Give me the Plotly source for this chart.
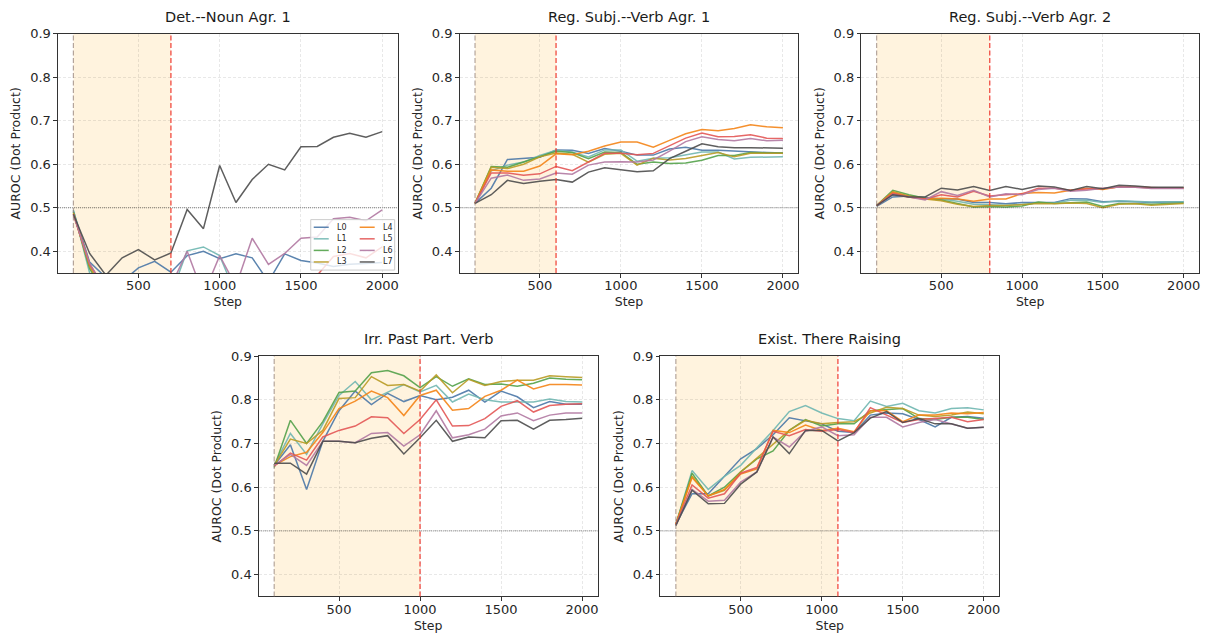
import plotly.graph_objects as go

steps = [100, 200, 300, 400, 500, 600, 700, 800, 900, 1000,
         1100, 1200, 1300, 1400, 1500, 1600, 1700, 1800, 1900, 2000]
layer_names = ["L0", "L1", "L2", "L3", "L4", "L5", "L6", "L7"]
layer_colors = ["#4C78A8", "#72B7B2", "#54A24B", "#BA9C25",
                "#F58518", "#E45756", "#B279A2", "#4D4D4D"]

titles = ["Det.--Noun Agr. 1", "Reg. Subj.--Verb Agr. 1", "Reg. Subj.--Verb Agr. 2",
          "Irr. Past Part. Verb", "Exist. There Raising"]
shade_end = [700, 600, 800, 1000, 1100]
x_ticks = [500, 1000, 1500, 2000]
y_ticks = [0.4, 0.5, 0.6, 0.7, 0.8, 0.9]

det_noun_1 = [
    [0.492, 0.375, 0.34, 0.33, 0.362, 0.377, 0.352, 0.39, 0.40, 0.383, 0.394, 0.385, 0.33, 0.394, 0.379, 0.373, 0.365, 0.37, 0.372, 0.374],
    [0.495, 0.35, 0.30, 0.29, 0.30, 0.31, 0.30, 0.401, 0.41, 0.39, 0.30, 0.31, 0.30, 0.31, 0.30, 0.31, 0.30, 0.31, 0.30, 0.31],
    [0.49, 0.36, 0.30, 0.29, 0.29, 0.30, 0.30, 0.30, 0.31, 0.30, 0.30, 0.31, 0.30, 0.30, 0.31, 0.30, 0.31, 0.31, 0.30, 0.31],
    [0.488, 0.365, 0.30, 0.29, 0.30, 0.30, 0.29, 0.30, 0.30, 0.31, 0.30, 0.30, 0.31, 0.30, 0.30, 0.31, 0.30, 0.30, 0.31, 0.31],
    [0.486, 0.37, 0.31, 0.30, 0.29, 0.30, 0.30, 0.31, 0.30, 0.30, 0.31, 0.30, 0.30, 0.31, 0.31, 0.30, 0.31, 0.31, 0.31, 0.32],
    [0.485, 0.37, 0.31, 0.30, 0.30, 0.29, 0.30, 0.30, 0.31, 0.30, 0.30, 0.31, 0.30, 0.31, 0.32, 0.345, 0.388, 0.395, 0.385, 0.41],
    [0.484, 0.372, 0.31, 0.30, 0.30, 0.30, 0.32, 0.40, 0.30, 0.39, 0.32, 0.43, 0.37, 0.395, 0.43, 0.433, 0.475, 0.478, 0.47, 0.495],
    [0.485, 0.395, 0.345, 0.385, 0.404, 0.38, 0.396, 0.496, 0.452, 0.597, 0.512, 0.565, 0.60, 0.587, 0.64, 0.641, 0.662, 0.671, 0.662, 0.675],
]
reg_subj_verb_1 = [
    [0.51, 0.545, 0.611, 0.614, 0.616, 0.633, 0.632, 0.625, 0.636, 0.63, 0.621, 0.621, 0.635, 0.639, 0.632, 0.632, 0.63, 0.628, 0.627, 0.626],
    [0.51, 0.585, 0.598, 0.605, 0.62, 0.632, 0.628, 0.617, 0.633, 0.633, 0.607, 0.614, 0.615, 0.622, 0.628, 0.628, 0.612, 0.616, 0.616, 0.617],
    [0.51, 0.595, 0.593, 0.605, 0.617, 0.63, 0.627, 0.613, 0.628, 0.627, 0.60, 0.605, 0.602, 0.603, 0.609, 0.62, 0.62, 0.627, 0.626, 0.626],
    [0.51, 0.593, 0.59, 0.60, 0.617, 0.626, 0.623, 0.605, 0.623, 0.625, 0.598, 0.614, 0.61, 0.613, 0.62, 0.627, 0.617, 0.625, 0.625, 0.625],
    [0.51, 0.587, 0.584, 0.584, 0.596, 0.624, 0.622, 0.63, 0.642, 0.651, 0.651, 0.639, 0.655, 0.67, 0.68, 0.677, 0.682, 0.691, 0.686, 0.684],
    [0.51, 0.58, 0.58, 0.575, 0.578, 0.595, 0.585, 0.605, 0.625, 0.625, 0.622, 0.625, 0.643, 0.66, 0.672, 0.663, 0.664, 0.668, 0.66, 0.659],
    [0.51, 0.568, 0.575, 0.563, 0.566, 0.58, 0.577, 0.598, 0.605, 0.606, 0.605, 0.61, 0.63, 0.652, 0.663, 0.657, 0.654, 0.659, 0.654, 0.655],
    [0.51, 0.53, 0.563, 0.556, 0.561, 0.565, 0.559, 0.582, 0.592, 0.588, 0.583, 0.585, 0.613, 0.63, 0.647, 0.64, 0.638, 0.638, 0.637, 0.637],
]
reg_subj_verb_2 = [
    [0.503, 0.525, 0.527, 0.523, 0.52, 0.52, 0.512, 0.512, 0.509, 0.512, 0.512, 0.512, 0.521, 0.52, 0.514, 0.515, 0.514, 0.512, 0.513, 0.513],
    [0.505, 0.53, 0.527, 0.522, 0.52, 0.515, 0.508, 0.507, 0.506, 0.508, 0.511, 0.511, 0.517, 0.517, 0.512, 0.516, 0.515, 0.513, 0.514, 0.514],
    [0.505, 0.54, 0.53, 0.522, 0.518, 0.51, 0.502, 0.503, 0.502, 0.504, 0.513, 0.51, 0.512, 0.513, 0.503, 0.51, 0.51, 0.508, 0.51, 0.511],
    [0.505, 0.537, 0.527, 0.52, 0.516, 0.508, 0.503, 0.505, 0.505, 0.508, 0.51, 0.509, 0.511, 0.51, 0.50, 0.508, 0.509, 0.506, 0.508, 0.51],
    [0.505, 0.535, 0.525, 0.52, 0.522, 0.52, 0.515, 0.52, 0.52, 0.533, 0.535, 0.534, 0.54, 0.545, 0.542, 0.548, 0.548, 0.546, 0.546, 0.546],
    [0.505, 0.533, 0.525, 0.52, 0.53, 0.525, 0.538, 0.527, 0.53, 0.532, 0.545, 0.545, 0.54, 0.543, 0.544, 0.548, 0.547, 0.546, 0.546, 0.545],
    [0.505, 0.53, 0.525, 0.518, 0.537, 0.528, 0.54, 0.525, 0.532, 0.53, 0.542, 0.545, 0.538, 0.54, 0.545, 0.548, 0.547, 0.544, 0.545, 0.544],
    [0.505, 0.53, 0.525, 0.525, 0.545, 0.541, 0.549, 0.54, 0.549, 0.542, 0.55, 0.548, 0.54, 0.549, 0.544, 0.552, 0.55, 0.547, 0.547, 0.547],
]
irr_past_part = [
    [0.65, 0.697, 0.595, 0.705, 0.775, 0.82, 0.789, 0.815, 0.796, 0.81, 0.80, 0.806, 0.822, 0.795, 0.82, 0.807, 0.782, 0.796, 0.79, 0.79],
    [0.65, 0.723, 0.675, 0.745, 0.81, 0.842, 0.80, 0.817, 0.835, 0.818, 0.833, 0.795, 0.813, 0.80, 0.795, 0.795, 0.795, 0.802, 0.796, 0.795],
    [0.645, 0.753, 0.70, 0.75, 0.817, 0.82, 0.862, 0.867, 0.855, 0.828, 0.853, 0.831, 0.848, 0.835, 0.836, 0.831, 0.838, 0.85, 0.847, 0.846],
    [0.65, 0.71, 0.70, 0.73, 0.803, 0.805, 0.853, 0.833, 0.835, 0.82, 0.857, 0.816, 0.847, 0.833, 0.842, 0.845, 0.845, 0.855, 0.853, 0.851],
    [0.65, 0.67, 0.68, 0.725, 0.78, 0.797, 0.82, 0.805, 0.764, 0.81, 0.822, 0.776, 0.78, 0.808, 0.822, 0.845, 0.825, 0.835, 0.835, 0.834],
    [0.648, 0.678, 0.662, 0.715, 0.73, 0.74, 0.761, 0.759, 0.723, 0.755, 0.80, 0.74, 0.741, 0.757, 0.785, 0.798, 0.772, 0.787, 0.79, 0.791],
    [0.65, 0.675, 0.65, 0.705, 0.705, 0.702, 0.723, 0.725, 0.694, 0.72, 0.775, 0.713, 0.72, 0.733, 0.763, 0.77, 0.752, 0.765, 0.77, 0.77],
    [0.655, 0.655, 0.63, 0.705, 0.705, 0.702, 0.712, 0.718, 0.676, 0.713, 0.753, 0.705, 0.715, 0.713, 0.752, 0.753, 0.733, 0.753, 0.755, 0.758],
]
exist_there = [
    [0.515, 0.585, 0.585, 0.625, 0.665, 0.688, 0.72, 0.759, 0.752, 0.745, 0.728, 0.725, 0.765, 0.77, 0.768, 0.755, 0.738, 0.76, 0.762, 0.758],
    [0.515, 0.638, 0.595, 0.625, 0.65, 0.69, 0.73, 0.773, 0.787, 0.77, 0.757, 0.752, 0.797, 0.785, 0.792, 0.775, 0.77, 0.78, 0.782, 0.777],
    [0.515, 0.632, 0.58, 0.60, 0.635, 0.665, 0.683, 0.73, 0.755, 0.74, 0.745, 0.745, 0.775, 0.778, 0.78, 0.757, 0.755, 0.76, 0.76, 0.755],
    [0.515, 0.625, 0.58, 0.593, 0.635, 0.667, 0.70, 0.73, 0.753, 0.745, 0.748, 0.75, 0.77, 0.783, 0.78, 0.765, 0.762, 0.765, 0.772, 0.768],
    [0.515, 0.622, 0.58, 0.595, 0.63, 0.642, 0.73, 0.725, 0.742, 0.73, 0.735, 0.727, 0.775, 0.775, 0.75, 0.765, 0.765, 0.77, 0.768, 0.771],
    [0.515, 0.605, 0.575, 0.585, 0.632, 0.645, 0.728, 0.718, 0.732, 0.728, 0.732, 0.725, 0.782, 0.765, 0.748, 0.755, 0.758, 0.76, 0.75, 0.755],
    [0.513, 0.595, 0.568, 0.57, 0.612, 0.635, 0.715, 0.692, 0.728, 0.738, 0.718, 0.72, 0.76, 0.76, 0.738, 0.748, 0.755, 0.745, 0.735, 0.737],
    [0.512, 0.593, 0.562, 0.563, 0.607, 0.635, 0.715, 0.677, 0.73, 0.73, 0.706, 0.725, 0.758, 0.773, 0.748, 0.757, 0.745, 0.745, 0.735, 0.737],
]
panels_data = [det_noun_1, reg_subj_verb_1, reg_subj_verb_2, irr_past_part, exist_there]

W, H = 1208, 637
# panel pixel boxes (left, right, top, bottom)
boxes = [(58, 398, 27, 269), (460, 799, 27, 269), (862, 1200, 27, 269),
         (259, 598, 353, 596), (661, 1000, 353, 596)]

FONT = "DejaVu Sans"
TXT = "#262626"
fig = go.Figure()
layout = dict(width=W, height=H, margin=dict(l=0, r=0, t=0, b=0),
              paper_bgcolor="white", plot_bgcolor="white",
              font=dict(family=FONT, size=12, color=TXT),
              shapes=[], annotations=[], showlegend=False)

for i, (data, title, end, box) in enumerate(zip(panels_data, titles, shade_end, boxes)):
    n = "" if i == 0 else str(i + 1)
    xa, ya = "x" + n, "y" + n
    l, r, t, b = box
    axcommon = dict(showline=True, mirror=True, linecolor="#333333", linewidth=1,
                    ticks="outside", ticklen=3.5, tickcolor="#333333",
                    showgrid=True, gridcolor="rgba(0,0,0,0.09)", griddash="3px,2px", gridwidth=0.8,
                    zeroline=False, tickfont=dict(size=13, family=FONT, color=TXT))
    layout["xaxis" + n] = dict(axcommon, domain=[l / W, r / W], anchor=ya, range=[5, 2095],
                               tickvals=x_ticks, ticklabelstandoff=-3,
                               title=dict(text="Step", standoff=5,
                                          font=dict(size=12.5, family=FONT, color=TXT)))
    layout["yaxis" + n] = dict(axcommon, domain=[1 - b / H, 1 - t / H], anchor=xa, range=[0.35, 0.9],
                               tickvals=y_ticks, tickformat=".1f",
                               title=dict(text="AUROC (Dot Product)", standoff=6,
                                          font=dict(size=12.5, family=FONT, color=TXT)))
    layout["shapes"].append(dict(type="rect", xref=xa, yref=ya + " domain", x0=100, x1=end, y0=0, y1=1,
                                 fillcolor="rgba(255,165,0,0.13)", line=dict(width=0), layer="below"))
    layout["shapes"].append(dict(type="line", xref=xa + " domain", yref=ya, x0=0, x1=1, y0=0.5, y1=0.5,
                                 line=dict(color="rgba(0,0,0,0.65)", width=0.8, dash="1px,1px"), layer="above"))
    layout["shapes"].append(dict(type="line", xref=xa, yref=ya + " domain", x0=100, x1=100, y0=0, y1=1,
                                 line=dict(color="rgba(140,120,110,0.65)", width=1.2, dash="5px,2.5px"), layer="above"))
    layout["shapes"].append(dict(type="line", xref=xa, yref=ya + " domain", x0=end, x1=end, y0=0, y1=1,
                                 line=dict(color="rgba(240,55,45,0.9)", width=1.3, dash="5px,2.5px"), layer="above"))
    layout["annotations"].append(dict(text=title, xref="paper", yref="paper",
                                      x=(l + r) / 2 / W, y=1 - (t - 7) / H, xanchor="center", yanchor="bottom",
                                      showarrow=False, font=dict(size=14.5, family=FONT, color="#1a1a1a")))
    for j, (name, color, vals) in enumerate(zip(layer_names, layer_colors, data)):
        fig.add_trace(go.Scatter(x=steps, y=vals, xaxis=xa, yaxis=ya, mode="lines", name=name,
                                 line=dict(color=color, width=1.5), opacity=0.9))

# legend for the first panel (two columns, lower right)
layout["shapes"].append(dict(type="rect", xref="paper", yref="paper", x0=311 / W, x1=395 / W,
                             y0=1 - 266 / H, y1=1 - 215 / H, fillcolor="rgba(255,255,255,0.8)",
                             line=dict(color="#cccccc", width=1), layer="above"))
for j, (name, color) in enumerate(zip(layer_names, layer_colors)):
    col, row = j // 4, j % 4
    lx = 314 + col * 46
    ly = 222.7 + row * 11.7
    layout["shapes"].append(dict(type="line", xref="paper", yref="paper",
                                 x0=lx / W, x1=(lx + 15) / W, y0=1 - ly / H, y1=1 - ly / H,
                                 line=dict(color=color, width=1.5), opacity=0.9, layer="above"))
    layout["annotations"].append(dict(text=name, xref="paper", yref="paper",
                                      x=(lx + 21) / W, y=1 - ly / H, xanchor="left", yanchor="middle",
                                      showarrow=False, font=dict(size=8, family=FONT, color=TXT)))

fig.update_layout(**layout)
fig.write_html("out.html")
